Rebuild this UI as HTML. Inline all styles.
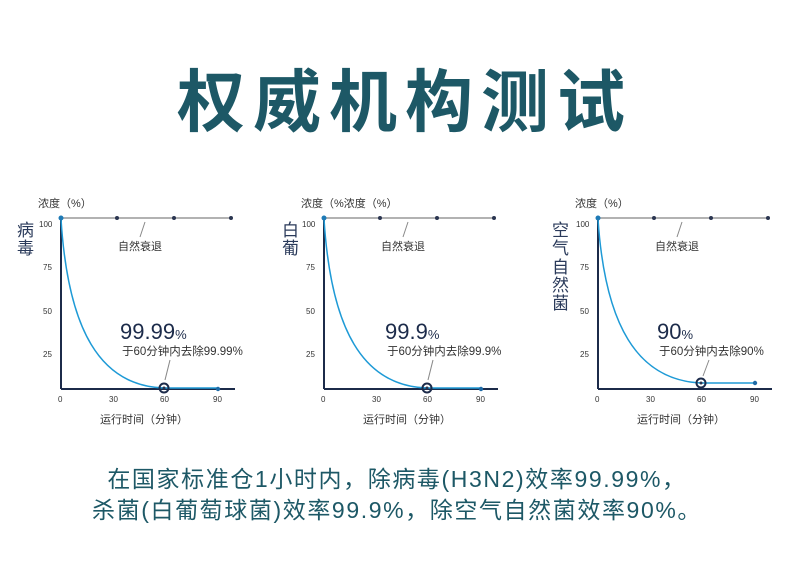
<!DOCTYPE html>
<html><head><meta charset="utf-8"><style>
body{margin:0;width:790px;height:571px;background:#fff;overflow:hidden;font-family:"Liberation Sans","Noto Sans CJK SC",sans-serif}
svg{position:absolute;left:0;top:0}
</style></head><body>
<svg width="790" height="571" viewBox="0 0 790 571" font-family="Liberation Sans, Noto Sans CJK SC, sans-serif">
<text x="405" y="126" text-anchor="middle" font-size="68" font-weight="bold" fill="#1d5866" font-family="Noto Sans CJK SC, sans-serif" letter-spacing="8">权威机构测试</text>

<g id="c1" fill="#2a3550">
<text x="38" y="207" font-size="11" fill="#333">浓度（%）</text>
<text x="17" y="236" font-size="17" fill="#2a3a5a">病</text>
<text x="17" y="254" font-size="17" fill="#2a3a5a">毒</text>
<g font-size="8" fill="#333"><text x="39" y="227">100</text><text x="43" y="270">75</text><text x="43" y="314">50</text><text x="43" y="357">25</text>
<text x="58" y="402">0</text><text x="109" y="402">30</text><text x="160" y="402">60</text><text x="213" y="402">90</text></g>
<line x1="61" y1="218" x2="231" y2="218" stroke="#999" stroke-width="1.5"/>
<circle cx="117" cy="218" r="2"/><circle cx="174" cy="218" r="2"/><circle cx="231" cy="218" r="2"/>
<line x1="145" y1="222" x2="140" y2="237" stroke="#888"/>
<text x="118" y="250" font-size="11" fill="#333">自然衰退</text>
<line x1="61" y1="218" x2="61" y2="389" stroke="#1c2b4a" stroke-width="2"/>
<line x1="61" y1="389" x2="235" y2="389" stroke="#1c2b4a" stroke-width="2"/>
<path d="M61,219 C68,330 100,386 164,388 L218,388" fill="none" stroke="#1e9ad6" stroke-width="1.5"/>
<circle cx="61" cy="218" r="2.5" fill="#1e7ab6"/>
<circle cx="164" cy="388" r="4.5" fill="none" stroke="#1c2b4a" stroke-width="2"/><circle cx="164" cy="388" r="1.5"/>
<circle cx="218" cy="389" r="2.2" fill="#1e6aa6"/>
<line x1="170" y1="360" x2="165" y2="380" stroke="#888"/>
<text x="120" y="339" font-size="22" fill="#1c2b4a">99.99<tspan font-size="13">%</tspan></text>
<text x="122" y="355" font-size="11.5" fill="#333">于60分钟内去除99.99%</text>
</g>

<g transform="translate(263,0)" fill="#2a3550">
<text x="38" y="207" font-size="11" fill="#333">浓度（%浓度（%）</text>
<text x="19" y="236" font-size="17" fill="#2a3a5a">白</text>
<text x="19" y="254" font-size="17" fill="#2a3a5a">葡</text>
<g font-size="8" fill="#333"><text x="39" y="227">100</text><text x="43" y="270">75</text><text x="43" y="314">50</text><text x="43" y="357">25</text>
<text x="58" y="402">0</text><text x="109" y="402">30</text><text x="160" y="402">60</text><text x="213" y="402">90</text></g>
<line x1="61" y1="218" x2="231" y2="218" stroke="#999" stroke-width="1.5"/>
<circle cx="117" cy="218" r="2"/><circle cx="174" cy="218" r="2"/><circle cx="231" cy="218" r="2"/>
<line x1="145" y1="222" x2="140" y2="237" stroke="#888"/>
<text x="118" y="250" font-size="11" fill="#333">自然衰退</text>
<line x1="61" y1="218" x2="61" y2="389" stroke="#1c2b4a" stroke-width="2"/>
<line x1="61" y1="389" x2="235" y2="389" stroke="#1c2b4a" stroke-width="2"/>
<path d="M61,219 C68,330 100,386 164,388 L218,388" fill="none" stroke="#1e9ad6" stroke-width="1.5"/>
<circle cx="61" cy="218" r="2.5" fill="#1e7ab6"/>
<circle cx="164" cy="388" r="4.5" fill="none" stroke="#1c2b4a" stroke-width="2"/><circle cx="164" cy="388" r="1.5"/>
<circle cx="218" cy="389" r="2.2" fill="#1e6aa6"/>
<line x1="170" y1="360" x2="165" y2="380" stroke="#888"/>
<text x="122" y="339" font-size="22" fill="#1c2b4a">99.9<tspan font-size="13">%</tspan></text>
<text x="124" y="355" font-size="11.5" fill="#333">于60分钟内去除99.9%</text>
</g>

<g transform="translate(537,0)" fill="#2a3550">
<text x="38" y="207" font-size="11" fill="#333">浓度（%）</text>
<g font-size="17" fill="#2a3a5a"><text x="15" y="236">空</text><text x="15" y="254">气</text><text x="15" y="273">自</text><text x="15" y="291">然</text><text x="15" y="309">菌</text></g>
<g font-size="8" fill="#333"><text x="39" y="227">100</text><text x="43" y="270">75</text><text x="43" y="314">50</text><text x="43" y="357">25</text>
<text x="58" y="402">0</text><text x="109" y="402">30</text><text x="160" y="402">60</text><text x="213" y="402">90</text></g>
<line x1="61" y1="218" x2="231" y2="218" stroke="#999" stroke-width="1.5"/>
<circle cx="117" cy="218" r="2"/><circle cx="174" cy="218" r="2"/><circle cx="231" cy="218" r="2"/>
<line x1="145" y1="222" x2="140" y2="237" stroke="#888"/>
<text x="118" y="250" font-size="11" fill="#333">自然衰退</text>
<line x1="61" y1="218" x2="61" y2="389" stroke="#1c2b4a" stroke-width="2"/>
<line x1="61" y1="389" x2="235" y2="389" stroke="#1c2b4a" stroke-width="2"/>
<path d="M61,219 C68,325 100,380 164,383 L218,383" fill="none" stroke="#1e9ad6" stroke-width="1.5"/>
<circle cx="61" cy="218" r="2.5" fill="#1e7ab6"/>
<circle cx="164" cy="383" r="4.5" fill="none" stroke="#1c2b4a" stroke-width="2"/><circle cx="164" cy="383" r="1.5"/>
<circle cx="218" cy="383" r="2.2" fill="#1e6aa6"/>
<line x1="172" y1="360" x2="166" y2="376" stroke="#888"/>
<text x="120" y="339" font-size="22" fill="#1c2b4a">90<tspan font-size="13">%</tspan></text>
<text x="122" y="355" font-size="11.5" fill="#333">于60分钟内去除90%</text>
</g>

<g font-size="11" fill="#333">
<text x="100" y="423">运行时间（分钟）</text>
<text x="363" y="423">运行时间（分钟）</text>
<text x="637" y="423">运行时间（分钟）</text>
</g>

<g font-size="23" fill="#1d5866" text-anchor="middle" letter-spacing="1.6">
<text x="397" y="487">在国家标准仓1小时内，除病毒(H3N2)效率99.99%，</text>
<text x="397" y="518">杀菌(白葡萄球菌)效率99.9%，除空气自然菌效率90%。</text>
</g>
</svg>
</body></html>
